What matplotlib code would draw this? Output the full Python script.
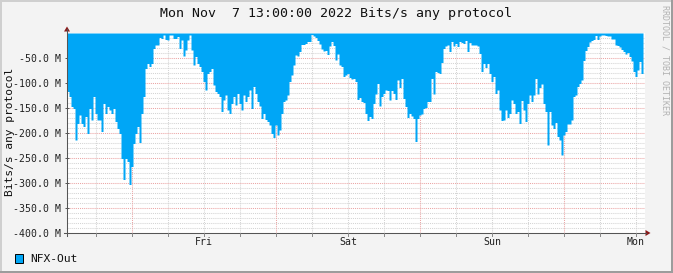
import matplotlib
matplotlib.use('Agg')
import matplotlib.pyplot as plt
import numpy as np
from matplotlib.patches import Rectangle, Polygon
from matplotlib.lines import Line2D

# ---------------- data ----------------
title = "Mon Nov  7 13:00:00 2022 Bits/s any protocol"
ylabel = "Bits/s any protocol"
series_name = "NFX-Out"
watermark = "RRDTOOL / TOBI OETIKER"

start_hour = 1.17        # hours after Thu 00:00
step_hours = 1.0 / 3.0   # 20-minute samples
# NFX-Out in Mbit/s (negative = outbound)
values_thu = [
    -117, -127, -147, -151, -214, -181, -164, -181, -187, -167,
    -201, -151, -174, -127, -161, -174, -174, -197, -141, -161,
    -147, -154, -161, -151, -177, -191, -201, -251, -293, -251,
    -257, -303, -267, -221, -201, -187, -219, -161, -127, -71,
    -61, -67, -61, -31, -24, -24, -9, -11, -4, -13,
    -14, -4, -4, -11, -11, -7, -31, -14, -46, -34,
    -14, -4, -34, -64, -47, -61, -67, -77, -97, -114,
    -81, -77, -71, -104,
]
values_fri = [
    -117, -121, -127, -157, -134, -124, -154, -161, -141, -127,
    -144, -121, -141, -154, -124, -137, -127, -114, -151, -107,
    -121, -137, -146, -171, -161, -173, -177, -184, -201, -209,
    -184, -204, -194, -161, -137, -134, -124, -97, -84, -64,
    -44, -46, -37, -23, -23, -21, -17, -17, -3, -6,
    -9, -15, -22, -32, -36, -35, -43, -26, -17, -25,
    -54, -42, -64, -67, -87, -84, -81, -89, -92, -91,
    -97, -133, -129,
]
values_sat = [
    -137, -139, -161, -175, -167, -171, -141, -122, -101, -146,
    -127, -121, -114, -115, -134, -115, -121, -133, -94, -109,
    -91, -131, -147, -169, -161, -166, -171, -217, -171, -164,
    -162, -151, -149, -137, -137, -91, -122, -77, -79, -81,
    -59, -31, -26, -24, -37, -17, -26, -21, -27, -17,
    -19, -21, -15, -37, -19, -24, -24, -24, -26, -41,
    -77, -61, -69, -61, -81, -97, -87, -121, -114, -154,
    -175, -174,
]
values_sun = [
    -154, -169, -161, -134, -141, -161, -157, -181, -135, -154,
    -177, -141, -124, -137, -124, -91, -122, -109, -102, -141,
    -157, -224, -157, -184, -191, -179, -207, -214, -244, -204,
    -197, -182, -182, -174, -127, -124, -107, -101, -94, -55,
    -35, -27, -18, -15, -13, -5, -13, -6, -4, -4,
    -5, -6, -6, -12, -12, -24, -25, -28, -33, -37,
    -42, -39, -47, -56, -77, -87, -74, -57, -81,
]

day_ticks = [24, 48, 72, 96]
day_labels = ["Fri", "Sat", "Sun", "Mon"]
y_ticks = [-50, -100, -150, -200, -250, -300, -350, -400]
y_min, y_max = -400, 0

# ---------------- figure ----------------
W, H = 673, 273
fig = plt.figure(figsize=(W / 100, H / 100), dpi=100)
fig.patch.set_facecolor('#F3F3F3')

px0, px1, py_top, py_bot = 67, 645, 33, 233
pph = 6.0  # pixels per hour
ax = fig.add_axes([px0 / W, (H - py_bot) / H, (px1 - px0) / W, (py_bot - py_top) / H])
ax.set_facecolor('white')
x_end = start_hour + (px1 - px0) / pph
ax.set_xlim(start_hour, x_end)
ax.set_ylim(y_min, y_max)
for s in ax.spines.values():
    s.set_visible(False)

# grid (below data)
dash = (0, (1.0, 1.0))
for yv in np.arange(-10, y_min - 1, -10):
    if yv % 50 == 0:
        continue
    ax.axhline(yv, color='#D4D4D4', lw=0.75, ls=dash, zorder=1)
for yv in y_ticks:
    ax.axhline(yv, color='#EBA5A5', lw=0.75, ls=dash, zorder=1.2)
for xv in np.arange(6, x_end, 6):
    if xv % 24 == 12:
        ax.axvline(xv, color='#EBA5A5', lw=0.75, ls=dash, zorder=1.2)
    else:
        ax.axvline(xv, color='#D4D4D4', lw=0.75, ls=dash, zorder=1)

# data area
vals = np.array(values_thu + values_fri + values_sat + values_sun, dtype=float)
t = start_hour + step_hours * np.arange(len(vals))
t_ext = np.append(t, t[-1] + step_hours)
v_ext = np.append(vals, vals[-1])
ax.fill_between(t_ext, v_ext, 0, step='post', color='#00A6F6', lw=0, zorder=2)

# ticks
mono = 'DejaVu Sans Mono'
ax.set_yticks(y_ticks)
ax.set_yticklabels([f"{v:.1f} M" for v in y_ticks], fontfamily=mono, fontsize=7.1, color='#222222')
ax.set_xticks(day_ticks)
ax.set_xticklabels(day_labels, fontfamily=mono, fontsize=7.1, color='#222222')
ax.tick_params(axis='y', length=2.5, width=0.7, color='#555555', pad=3, direction='inout')
ax.tick_params(axis='x', length=0, pad=3)

# ---------------- overlay (frame, axes lines, arrows, legend) ----------------
ov = fig.add_axes([0, 0, 1, 1], zorder=5)
ov.set_xlim(0, W)
ov.set_ylim(H, 0)
ov.axis('off')
ov.patch.set_alpha(0)

# frame
ov.add_patch(Rectangle((0, 0), W, 1.5, color='#CFCFCF', lw=0))
ov.add_patch(Rectangle((0, 0), 1.5, H, color='#CFCFCF', lw=0))
ov.add_patch(Rectangle((W - 2.5, 0), 2.5, H, color='#9C9C9C', lw=0))
ov.add_patch(Rectangle((0, H - 2.5), W, 2.5, color='#9C9C9C', lw=0))

# axis lines
ov.add_line(Line2D([px0, px0], [py_bot + 3, 29], color='#555555', lw=0.75))
ov.add_line(Line2D([px0 - 3, px1 + 1], [py_bot, py_bot], color='#555555', lw=0.75))
# x ticks below axis
for xv in np.arange(6, x_end, 6):
    xp = px0 + (xv - start_hour) * pph
    ov.add_line(Line2D([xp, xp], [py_bot, py_bot + 2.5], color='#888888', lw=0.7))
arrow_c = '#8B1A1A'
ov.add_patch(Polygon([[px0 - 3, 31.5], [px0 + 3, 31.5], [px0, 26.5]], closed=True, color=arrow_c, lw=0))
ov.add_patch(Polygon([[px1 + 0.5, py_bot - 3], [px1 + 0.5, py_bot + 3], [px1 + 5.5, py_bot]],
                     closed=True, color=arrow_c, lw=0))

# texts
ov.text(336, 14, title, ha='center', va='center', fontfamily=mono, fontsize=9.5, color='#111111')
ov.text(10.5, 131.5, ylabel, ha='center', va='center', rotation=90, fontfamily=mono,
        fontsize=8.1, color='#111111')
ov.text(665, 60, watermark, ha='center', va='center', rotation=-90, fontfamily=mono,
        fontsize=6.0, color='#B2B2B2')

# legend
ov.add_patch(Rectangle((15, 254), 8, 8.5, facecolor='#00A6F6', edgecolor='black', lw=0.7))
ov.text(30, 259, series_name, ha='left', va='center', fontfamily=mono, fontsize=8.1, color='#111111')

fig.savefig('out.png', dpi=100, facecolor=fig.get_facecolor())
